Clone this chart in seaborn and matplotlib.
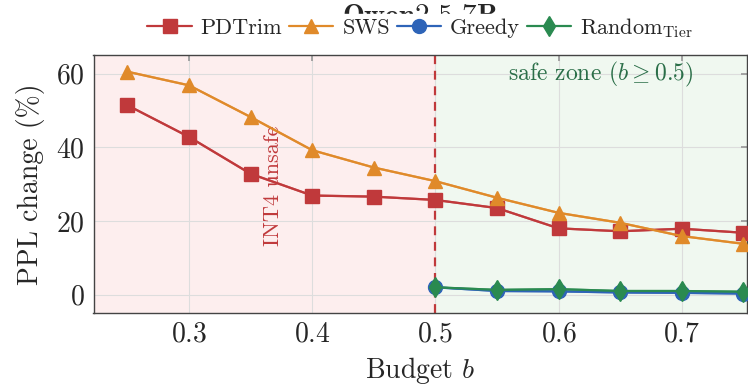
import numpy as np
import pandas as pd
import seaborn as sns
import matplotlib.pyplot as plt

# data
budget = [0.25, 0.30, 0.35, 0.40, 0.45, 0.50, 0.55, 0.60, 0.65, 0.70, 0.75]
pdtrim = [51.4, 42.8, 32.8, 26.9, 26.6, 25.7, 23.5, 18.0, 17.2, 17.9, 16.8]
sws = [60.5, 56.8, 48.2, 39.2, 34.5, 30.8, 26.3, 22.2, 19.5, 15.9, 13.8]
budget_safe = [0.50, 0.55, 0.60, 0.65, 0.70, 0.75]
greedy = [2.0, 1.0, 0.9, 0.6, 0.5, 0.3]
random_tier = [2.0, 1.3, 1.5, 1.0, 1.0, 0.8]

sns.set_theme(style="whitegrid")
plt.rcParams["font.family"] = ["cmr10", "DejaVu Serif"]
plt.rcParams["mathtext.fontset"] = "cm"
plt.rcParams["axes.formatter.use_mathtext"] = True

fig, ax = plt.subplots(figsize=(7.48, 3.88), dpi=100)

ax.axvspan(0.2, 0.5, color="#fdeeee", zorder=0)
ax.axvspan(0.5, 0.8, color="#f0f8f0", zorder=0)
ax.axvline(0.5, color="#c0393b", ls=(0, (4, 3)), lw=1.6, zorder=2)

series = [
    ("PDTrim", budget, pdtrim, "#c0393b", "s", 10),
    ("SWS", budget, sws, "#e08a2a", "^", 10),
    ("Greedy", budget_safe, greedy, "#2e64b8", "o", 10),
    (r"Random$_{\mathrm{Tier}}$", budget_safe, random_tier, "#2a8a50", "d", 10),
]
for name, xs, ys, col, mk, ms in series:
    df = pd.DataFrame({"x": xs, "y": ys})
    sns.lineplot(data=df, x="x", y="y", ax=ax, color=col, lw=1.6, alpha=0.75,
                 zorder=3)
    ax.plot(xs, ys, ls="-", lw=1.6, marker=mk, ms=ms, color=col, zorder=4,
            label=name)
    ax.lines[-1].set_linestyle("none")

ax.text(0.368, 29.5, "INT4 unsafe", rotation=90, color="#c0393b",
        fontsize=16, ha="center", va="center")
ax.text(0.634, 59.8, r"safe zone ($b \geq 0.5$)", color="#2a6e48",
        fontsize=17, ha="center", va="center")

ax.set_xlim(0.2225, 0.7525)
ax.set_ylim(-5, 65)
ax.set_xticks([0.3, 0.4, 0.5, 0.6, 0.7])
ax.set_yticks([0, 20, 40, 60])
ax.tick_params(labelsize=20, direction="in", top=True, right=True,
               length=4, color="#999999", pad=6)
ax.grid(color="#dddddd", lw=0.8)
for s in ax.spines.values():
    s.set_color("#444444")
    s.set_linewidth(1.0)

ax.set_xlabel(r"Budget $b$", fontsize=20, labelpad=5)
ax.set_ylabel("PPL change (%)", fontsize=20, labelpad=8)

handles, labels = ax.get_legend_handles_labels()
for h in handles:
    h.set_linestyle("-")
leg = ax.legend(handles, labels, loc="lower center", bbox_to_anchor=(0.5, 1.0),
                ncol=4, frameon=True, facecolor="white", edgecolor="white",
                framealpha=1, fontsize=16, handlelength=2.0, columnspacing=0.3,
                handletextpad=0.4, borderaxespad=0.6, borderpad=0.1)
leg.set_zorder(10)

fig.subplots_adjust(left=0.125, right=0.998, top=0.858, bottom=0.193)

# title drawn before the axes, so the legend box hides its lower half
fig.text(0.5615, 1 - 24 / 388, r"$\mathbf{Qwen2.5}$-$\mathbf{7B}$",
         fontsize=21, ha="center", va="baseline", zorder=-1)

fig.savefig("out.png", dpi=100)
